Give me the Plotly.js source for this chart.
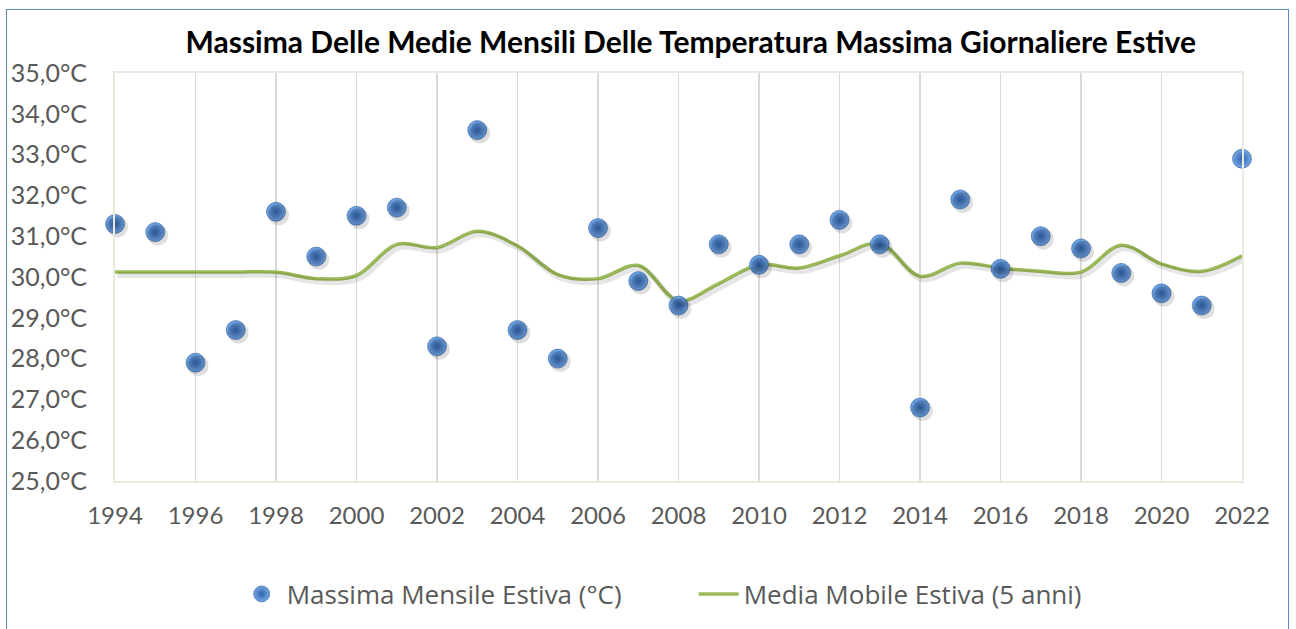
<!DOCTYPE html>
<html>
<head>
<meta charset="utf-8">
<script src="https://cdn.plot.ly/plotly-3.0.1.min.js"></script>
<style>
  html, body { margin: 0; padding: 0; background: #ffffff; }
  #wrap { position: relative; width: 1296px; height: 629px; overflow: hidden; }
  #frame { position: absolute; left: 6px; top: 9px; width: 1281px; height: 660px; border: 1.5px solid #5b87c5; pointer-events: none; z-index: 5; }
  #chart { position: absolute; left: 0; top: 0; width: 1296px; height: 629px; }
</style>
</head>
<body>
<div id="wrap">
  <div id="chart"></div>
  <div id="frame"></div>
</div>
<script>
const years = [1994,1995,1996,1997,1998,1999,2000,2001,2002,2003,2004,2005,2006,2007,2008,
               2009,2010,2011,2012,2013,2014,2015,2016,2017,2018,2019,2020,2021,2022];
const massimaMensile = [31.3,31.1,27.9,28.7,31.6,30.5,31.5,31.7,28.3,33.6,28.7,28.0,31.2,29.9,29.3,
                        30.8,30.3,30.8,31.4,30.8,26.8,31.9,30.2,31.0,30.7,30.1,29.6,29.3,32.9];
const mediaMobile = [30.12,30.12,30.12,30.12,30.12,29.96,30.04,30.80,30.72,31.12,30.76,30.06,29.96,30.28,29.42,
                     29.84,30.30,30.22,30.52,30.82,30.02,30.34,30.22,30.14,30.12,30.78,30.32,30.14,30.52];
const yTicks = [25,26,27,28,29,30,31,32,33,34,35];
const yTickText = ['25,0°C','26,0°C','27,0°C','28,0°C','29,0°C','30,0°C','31,0°C','32,0°C','33,0°C','34,0°C','35,0°C'];
const xTicks = [1994,1996,1998,2000,2002,2004,2006,2008,2010,2012,2014,2016,2018,2020,2022];
const xTickText = ['1994','1996','1998','2000','2002','2004','2006','2008','2010','2012','2014','2016','2018','2020','2022'];

const FONT = 'Lato, "Open Sans", sans-serif';
const LFONT = '"Open Sans", Lato, sans-serif';
const GREY = '#595959';

const traces = [
  // shadow of the moving average line
  { x: years, y: mediaMobile, xaxis: 'x2', yaxis: 'y2', type: 'scatter', mode: 'lines',
    line: { color: 'rgba(0,0,0,0.10)', width: 6, shape: 'spline', smoothing: 1 },
    hoverinfo: 'skip', showlegend: false, cliponaxis: false },
  { x: years, y: mediaMobile, type: 'scatter', mode: 'lines', name: 'Media Mobile Estiva (5 anni)',
    line: { color: '#9bbb59', width: 3.5, shape: 'spline', smoothing: 1 }, cliponaxis: false },
  // shadow of the markers
  { x: years, y: massimaMensile, xaxis: 'x2', yaxis: 'y2', type: 'scatter', mode: 'markers',
    marker: { size: 21, color: 'rgba(0,0,0,0.13)', line: { width: 0 } },
    hoverinfo: 'skip', showlegend: false, cliponaxis: false },
  { x: years, y: massimaMensile, type: 'scatter', mode: 'markers', name: 'Massima Mensile Estiva (°C)',
    marker: { size: 19, color: '#74a8e6', gradient: { type: 'radial', color: '#2f62ab' },
              line: { width: 0.6, color: '#2a5a9c' } }, cliponaxis: false }
];

const px = 1 / 408 * 10;   // degrees per pixel
const pxx = 28 / 1127;     // years per pixel

const layout = {
  width: 1296, height: 629,
  margin: { l: 115, r: 54, t: 73, b: 148 },
  paper_bgcolor: '#ffffff', plot_bgcolor: '#ffffff',
  title: { text: '<b>Massima Delle Medie Mensili Delle Temperatura Massima Giornaliere Estive</b>',
           font: { family: FONT, size: 30, color: '#000000' }, x: 0.533, xanchor: 'center', y: 0.932, yanchor: 'middle' },
  font: { family: FONT, color: GREY },
  xaxis: {
    range: [1994, 2022], tickvals: xTicks, ticktext: xTickText,
    showgrid: true, gridcolor: '#d9d9d9', gridwidth: 1.5,
    showline: true, linecolor: '#ebeadf', linewidth: 2, mirror: true,
    zeroline: false, ticks: '', tickfont: { family: FONT, size: 24, color: GREY }, ticklabelstandoff: 12
  },
  yaxis: {
    range: [25, 35], tickvals: yTicks, ticktext: yTickText,
    showgrid: false, showline: true, linecolor: '#ebeadf', linewidth: 2, mirror: true,
    zeroline: false, ticks: '', tickfont: { family: FONT, size: 25, color: GREY }, ticklabelstandoff: 21
  },
  xaxis2: { overlaying: 'x', range: [1994 - 2.5 * pxx, 2022 - 2.5 * pxx], visible: false },
  yaxis2: { overlaying: 'y', range: [25 + 3 * px, 35 + 3 * px], visible: false },
  showlegend: true,
  legend: { orientation: 'h', x: 0.108, xanchor: 'left', y: -0.277, yanchor: 'middle',
            font: { family: LFONT, size: 26, color: GREY }, traceorder: 'reversed',
            itemwidth: 40, entrywidth: 402, entrywidthmode: 'pixels', bgcolor: 'rgba(0,0,0,0)' },
  hovermode: false
};

Plotly.newPlot('chart', traces, layout, { displayModeBar: false, staticPlot: true });
</script>
</body>
</html>
